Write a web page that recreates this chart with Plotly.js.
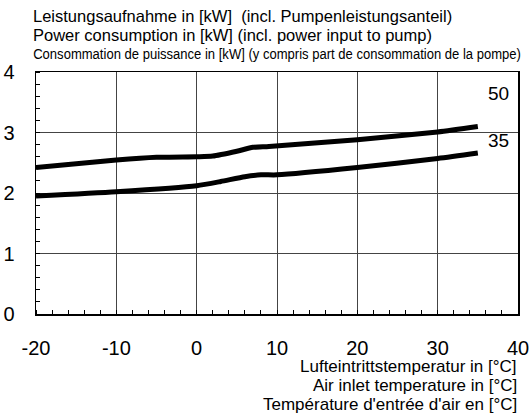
<!DOCTYPE html>
<html><head><meta charset="utf-8">
<script src="https://cdn.plot.ly/plotly-3.0.1.min.js"></script>
<style>html,body{margin:0;padding:0;background:#fff}#c{width:529px;height:419px}</style>
</head><body><div id="c"></div>
<script>
const temps50 = [-20, -10, -5, 0, 2, 5, 7, 9, 20, 30, 35];
const power50 = [2.42, 2.545, 2.59, 2.60, 2.61, 2.69, 2.755, 2.77, 2.88, 3.01, 3.10];
const temps35 = [-20, -10, 0, 3, 6, 8, 10, 20, 30, 35];
const power35 = [1.95, 2.02, 2.12, 2.19, 2.27, 2.30, 2.30, 2.42, 2.57, 2.66];
const curveLabels = ["50", "35"];
const labelX = [37.6, 37.6];
const labelY = [3.645, 2.87];
const xTicks = [-20, -10, 0, 10, 20, 30, 40];
const yTicks = [0, 1, 2, 3, 4];
const titleLines = [
  "Leistungsaufnahme in [kW]  (incl. Pumpenleistungsanteil)",
  "Power consumption in [kW] (incl. power input to pump)",
  "Consommation de puissance in [kW] (y compris part de consommation de la pompe)"
];
const xTitleLines = [
  "Lufteintrittstemperatur in [°C]",
  "Air inlet temperature in [°C]",
  "Température d'entrée d'air en [°C]"
];

const font = "'Liberation Sans', Arial, Helvetica, sans-serif";
const traces = [
  {x: temps50, y: power50, mode: "lines", line: {color: "#000", width: 5, shape: "spline", smoothing: 0.6}, hoverinfo: "none"},
  {x: temps35, y: power35, mode: "lines", line: {color: "#000", width: 5, shape: "spline", smoothing: 0.6}, hoverinfo: "none"}
];
const ann = [];
curveLabels.forEach((t, i) => ann.push({x: labelX[i], y: labelY[i], xref: "x", yref: "y", text: t, showarrow: false, font: {family: font, size: 19, color: "#000"}}));
const tSizes = [16.5, 16.5, 15];
const tY = [16, 35, 53];
titleLines.forEach((t, i) => ann.push({x: 0, y: 1, xref: "paper", yref: "paper", xanchor: "left", yanchor: "middle", yshift: 72 - tY[i], xshift: -5, text: t, showarrow: false, font: {family: font, size: tSizes[i], color: "#000"}}));
const xY = [366, 385, 404];
xTitleLines.forEach((t, i) => ann.push({x: 1, y: 0, xref: "paper", yref: "paper", xanchor: "right", yanchor: "middle", yshift: 314 - xY[i], xshift: 1, text: t, showarrow: false, font: {family: font, size: 17, color: "#000"}}));

const layout = {
  width: 529, height: 419,
  margin: {l: 36, r: 11, t: 72, b: 105, pad: 0},
  paper_bgcolor: "#fff", plot_bgcolor: "#fff",
  showlegend: false,
  font: {family: font, color: "#000"},
  xaxis: {range: [-20, 40], tickvals: xTicks, ticktext: xTicks.map(String), showgrid: true, gridcolor: "#444", gridwidth: 1,
    zeroline: false, showline: true, linecolor: "#000", linewidth: 1.5, mirror: true, ticks: "", ticklabelstandoff: 15,
    ticklabeloverflow: "allow",
    tickfont: {family: font, size: 20, color: "#000"},
    minor: {dtick: 2, ticks: "inside", ticklen: 4, tickcolor: "#000", showgrid: false}},
  yaxis: {range: [0, 4], tickvals: yTicks, ticktext: yTicks.map(String), showgrid: true, gridcolor: "#444", gridwidth: 1,
    zeroline: false, showline: true, linecolor: "#000", linewidth: 1.5, mirror: true, ticks: "", ticklabelstandoff: 16,
    ticklabeloverflow: "allow",
    tickfont: {family: font, size: 20, color: "#000"},
    minor: {dtick: 0.2, ticks: "inside", ticklen: 4, tickcolor: "#000", showgrid: false}},
  annotations: ann
};
Plotly.newPlot("c", traces, layout, {staticPlot: true, displayModeBar: false}).then(gd => {
  // condensed look for the third title line
  gd.querySelectorAll("text.annotation-text").forEach(el => {
    if (el.textContent.indexOf("Consommation") === 0) {
      const bb = el.getBBox();
      const x0 = bb.x;
      const prev = el.getAttribute("transform") || "";
      el.setAttribute("transform", prev + " translate(" + x0 + ",0) scale(0.87,1) translate(" + (-x0) + ",0)");
    }
  });
});
</script></body></html>
